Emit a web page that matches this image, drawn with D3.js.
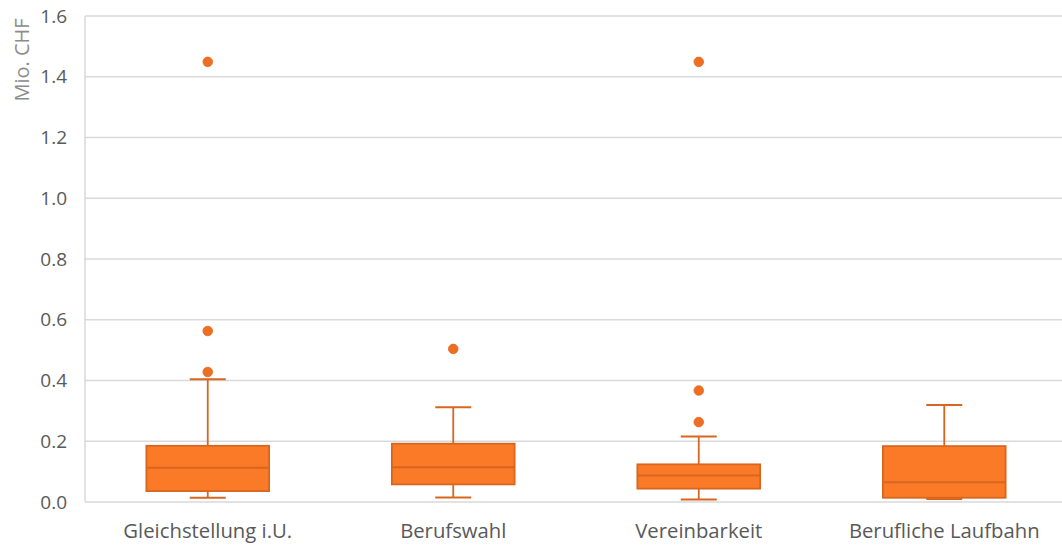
<!DOCTYPE html>
<html>
<head>
<meta charset="utf-8">
<script src="https://cdn.jsdelivr.net/npm/d3@7"></script>
<style>
  html, body { margin: 0; padding: 0; background: #fff; }
  svg { display: block; }
</style>
</head>
<body>
<svg id="chart" width="1062" height="548"></svg>
<script>
// Funding per project (Mio. CHF), summarised as box plots per field
const categories = ["Gleichstellung i.U.", "Berufswahl", "Vereinbarkeit", "Berufliche Laufbahn"];
const whiskerLow = [0.014, 0.015, 0.008, 0.010];
const q1         = [0.036, 0.058, 0.044, 0.014];
const median     = [0.113, 0.114, 0.087, 0.065];
const q3         = [0.185, 0.192, 0.124, 0.184];
const whiskerHigh= [0.404, 0.312, 0.216, 0.319];
const outliers   = [[0.428, 0.563, 1.449], [0.504], [0.263, 0.367, 1.449], []];
const yTicks = [0, 0.2, 0.4, 0.6, 0.8, 1.0, 1.2, 1.4, 1.6];

const fillColor = "#fb7a28";
const strokeColor = "#d8661f";
const textColor = "#595959";
const gridColor = "#d9d9d9";

const svg = d3.select("#chart");
const margin = { left: 85, right: -5, top: 16, bottom: 46 };
const W = 1062, H = 548;

const x = d3.scaleBand()
  .domain(categories)
  .range([margin.left, W - margin.right])
  .paddingInner(0).paddingOuter(0);

const y = d3.scaleLinear()
  .domain([0, 1.6])
  .range([H - margin.bottom, margin.top]);

// horizontal gridlines
svg.append("g")
  .selectAll("line")
  .data(yTicks)
  .join("line")
  .attr("x1", margin.left)
  .attr("x2", W)
  .attr("y1", d => y(d))
  .attr("y2", d => y(d))
  .attr("stroke", gridColor)
  .attr("stroke-width", 1.5);

// left border of plot area
svg.append("line")
  .attr("x1", margin.left).attr("x2", margin.left)
  .attr("y1", y(1.6)).attr("y2", y(0))
  .attr("stroke", gridColor).attr("stroke-width", 1.5);

// y axis labels
const yAxis = d3.axisLeft(y).tickValues(yTicks).tickFormat(d3.format(".1f")).tickSize(0).tickPadding(18);
const gy = svg.append("g").attr("transform", `translate(${margin.left},0)`).call(yAxis);
gy.select(".domain").remove();
gy.selectAll("text")
  .attr("fill", textColor)
  .attr("font-family", "'Open Sans', sans-serif")
  .attr("font-size", 19);

// x axis labels
const xAxis = d3.axisBottom(x).tickSize(0).tickPadding(22);
const gx = svg.append("g").attr("transform", `translate(0,${y(0)})`).call(xAxis);
gx.select(".domain").remove();
gx.selectAll("text")
  .attr("fill", textColor)
  .attr("font-family", "'Open Sans', sans-serif")
  .attr("font-size", 20.3);

// y axis title
svg.append("text")
  .attr("transform", "translate(29,60) rotate(-90)")
  .attr("text-anchor", "middle")
  .attr("fill", "#8c8c8c")
  .attr("font-family", "'Open Sans', sans-serif")
  .attr("font-size", 20)
  .text("Mio. CHF");

const boxW = x.bandwidth() * 0.5;
const capW = 36;

const boxes = svg.append("g")
  .selectAll("g")
  .data(categories.map((c, i) => ({ c, i })))
  .join("g")
  .attr("transform", d => `translate(${x(d.c) + x.bandwidth() / 2},0)`);

// whisker stems
boxes.append("line")
  .attr("x1", 0).attr("x2", 0)
  .attr("y1", d => y(whiskerLow[d.i])).attr("y2", d => y(whiskerHigh[d.i]))
  .attr("stroke", strokeColor).attr("stroke-width", 1.8);

// whisker caps
[whiskerLow, whiskerHigh].forEach(arr => {
  boxes.append("line")
    .attr("x1", -capW / 2).attr("x2", capW / 2)
    .attr("y1", d => y(arr[d.i])).attr("y2", d => y(arr[d.i]))
    .attr("stroke", strokeColor).attr("stroke-width", 2);
});

// boxes
boxes.append("rect")
  .attr("x", -boxW / 2)
  .attr("width", boxW)
  .attr("y", d => y(q3[d.i]))
  .attr("height", d => y(q1[d.i]) - y(q3[d.i]))
  .attr("fill", fillColor)
  .attr("stroke", strokeColor)
  .attr("stroke-width", 1.8);

// medians
boxes.append("line")
  .attr("x1", -boxW / 2).attr("x2", boxW / 2)
  .attr("y1", d => y(median[d.i])).attr("y2", d => y(median[d.i]))
  .attr("stroke", strokeColor).attr("stroke-width", 2);

// outliers
boxes.selectAll("circle")
  .data(d => outliers[d.i])
  .join("circle")
  .attr("cx", 0)
  .attr("cy", v => y(v))
  .attr("r", 4.8)
  .attr("fill", "#ee6f22")
  .attr("stroke", "#e06a20")
  .attr("stroke-width", 0.8);
</script>
</body>
</html>
